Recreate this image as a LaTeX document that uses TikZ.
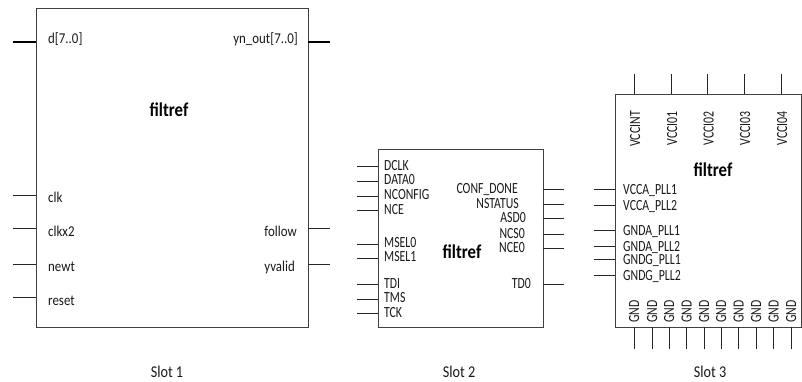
\documentclass[tikz,border=0pt]{standalone}
\usepackage{fontspec}
\setmainfont[FakeStretch=0.86]{Carlito}
\newfontfamily\capsfont[FakeStretch=0.76]{Carlito}
\newcommand{\pinL}[4]{%
  \coordinate (#2) at (#3,#4);
  \draw[pin] (#2) -- (#2 -| #1.west);}
\newcommand{\pinR}[4]{%
  \coordinate (#2) at (#3,#4);
  \draw[pin] (#2) -- (#2 -| #1.east);}
\newcommand{\pinT}[4]{%
  \coordinate (#2) at (#3,#4);
  \draw[pin] (#2) -- (#2 |- #1.north);}
\newcommand{\pinB}[4]{%
  \coordinate (#2) at (#3,#4);
  \draw[pin] (#2) -- (#2 |- #1.south);}
\tikzset{
  x=1pt,y=-1pt,
  blockbox/.style={draw=black!75,line width=0.8pt,inner sep=0pt,outer sep=0pt,fill=white},
  pin/.style={line width=0.6pt,black!85},
  buspin/.style={line width=1.4pt,black},
  lab/.style={inner sep=0pt,font=\fontsize{15}{15}\selectfont,text=black!90},
  ll/.style={lab,anchor=base west},
  rl/.style={lab,anchor=base east},
  cl/.style={ll,font=\capsfont\fontsize{15.5}{15.5}\selectfont},
  cr/.style={rl,font=\capsfont\fontsize{15.5}{15.5}\selectfont},
  vl/.style={lab,rotate=90,anchor=base east,font=\capsfont\fontsize{15.5}{15.5}\selectfont},
  vg/.style={lab,rotate=90,anchor=base west,font=\capsfont\fontsize{15.5}{15.5}\selectfont},
  title/.style={inner sep=0pt,font=\fontsize{19.5}{19.5}\selectfont\bfseries},
  slot/.style={lab,font=\fontsize{16.5}{16.5}\selectfont},
}
\begin{document}
\begin{tikzpicture}
\useasboundingbox (0,0) rectangle (802,381);
% Slot 1
\node[blockbox,minimum width=272pt,minimum height=319pt] (b1) at (172,167.5) {};
\coordinate (d1) at (13,42); \draw[buspin] (d1) -- (d1 -| b1.west);
\coordinate (q1) at (330,42); \draw[buspin] (q1) -- (q1 -| b1.east);
\pinL{b1}{a2}{13}{195}\pinL{b1}{a3}{13}{228}\pinL{b1}{a4}{13}{264}\pinL{b1}{a5}{13}{297}
\pinR{b1}{a6}{330}{228}\pinR{b1}{a7}{330}{264}
\node[ll] (t1) at (48,43) {d[7..0]};
\node[rl] (t2) at (298,43) {yn\_out[7..0]};
\node[ll] (t3) at (48,202) {clk};
\node[ll] (t4) at (48,236) {clkx2};
\node[ll] (t5) at (48,271) {newt};
\node[ll] (t6) at (48,305) {reset};
\node[rl] (t7) at (297,236) {follow};
\node[rl] (t8) at (295,271) {yvalid};
\node[title] (t9) at (169,110) {filtref};
\node[slot] (t10) at (167,372) {Slot 1};
% Slot 2
\node[blockbox,minimum width=165pt,minimum height=177.5pt] (b2) at (460.5,238.2) {};
\pinL{b2}{c1}{357}{166}\pinL{b2}{c2}{357}{181}\pinL{b2}{c3}{357}{196}\pinL{b2}{c4}{357}{210}
\pinL{b2}{c5}{357}{244}\pinL{b2}{c6}{357}{258}\pinL{b2}{c7}{357}{284}\pinL{b2}{c8}{357}{299}\pinL{b2}{c9}{357}{313}
\pinR{b2}{e1}{564}{189}\pinR{b2}{e2}{564}{204}\pinR{b2}{e3}{564}{218}\pinR{b2}{e4}{564}{234}\pinR{b2}{e5}{564}{248}\pinR{b2}{e6}{564}{284}
\node[cl] (u1) at (384,170) {DCLK};
\node[cl] (u2) at (384,184) {DATA0};
\node[cl] (u3) at (384,199) {NCONFIG};
\node[cl] (u4) at (384,214) {NCE};
\node[cl] (u5) at (384,247) {MSEL0};
\node[cl] (u6) at (384,261) {MSEL1};
\node[cl] (u7) at (384,288) {TDI};
\node[cl] (u8) at (384,302) {TMS};
\node[cl] (u9) at (384,317) {TCK};
\node[cr] (v1) at (518,193) {CONF\_DONE};
\node[cr] (v2) at (519,208) {NSTATUS};
\node[cr] (v3) at (526,222) {ASD0};
\node[cr] (v4) at (525,238) {NCS0};
\node[cr] (v5) at (525,252) {NCE0};
\node[cr] (v6) at (531,288) {TD0};
\node[title] (v7) at (462,252) {filtref};
\node[slot] (v8) at (459,372) {Slot 2};
% Slot 3
\node[blockbox,minimum width=186pt,minimum height=233pt] (b3) at (708,210.5) {};
\pinT{b3}{f1}{634}{74}\pinT{b3}{f2}{671}{74}\pinT{b3}{f3}{707.5}{74}\pinT{b3}{f4}{744}{74}\pinT{b3}{f5}{781}{74}
\pinL{b3}{g1}{594}{189}\pinL{b3}{g2}{594}{205}\pinL{b3}{g3}{594}{230}\pinL{b3}{g4}{594}{246}\pinL{b3}{g5}{594}{259}\pinL{b3}{g6}{594}{275}
\pinB{b3}{h1}{634}{349}\pinB{b3}{h2}{652}{349}\pinB{b3}{h3}{669}{349}\pinB{b3}{h4}{686.5}{349}\pinB{b3}{h5}{704}{349}
\pinB{b3}{h6}{721}{349}\pinB{b3}{h7}{738.5}{349}\pinB{b3}{h8}{756}{349}\pinB{b3}{h9}{773.5}{349}\pinB{b3}{h10}{791}{349}
\node[vl] (w1) at (640,111) {VCCINT};
\node[vl] (w2) at (677,111) {VCCI01};
\node[vl] (w3) at (713.5,111) {VCCI02};
\node[vl] (w4) at (750,111) {VCCI03};
\node[vl] (w5) at (787,111) {VCCI04};
\node[title] (w6) at (713,170) {filtref};
\node[cl] (x1) at (623,194) {VCCA\_PLL1};
\node[cl] (x2) at (623,210) {VCCA\_PLL2};
\node[cl] (x3) at (623,235) {GNDA\_PLL1};
\node[cl] (x4) at (623,251) {GNDA\_PLL2};
\node[cl] (x5) at (623,264) {GNDG\_PLL1};
\node[cl] (x6) at (623,280) {GNDG\_PLL2};
\node[vg] (y1) at (639,323) {GND};
\node[vg] (y2) at (657,323) {GND};
\node[vg] (y3) at (674,323) {GND};
\node[vg] (y4) at (691.5,323) {GND};
\node[vg] (y5) at (709,323) {GND};
\node[vg] (y6) at (726,323) {GND};
\node[vg] (y7) at (743.5,323) {GND};
\node[vg] (y8) at (761,323) {GND};
\node[vg] (y9) at (778.5,323) {GND};
\node[vg] (y10) at (796,323) {GND};
\node[slot] (w7) at (710,372) {Slot 3};
\end{tikzpicture}
\end{document}
